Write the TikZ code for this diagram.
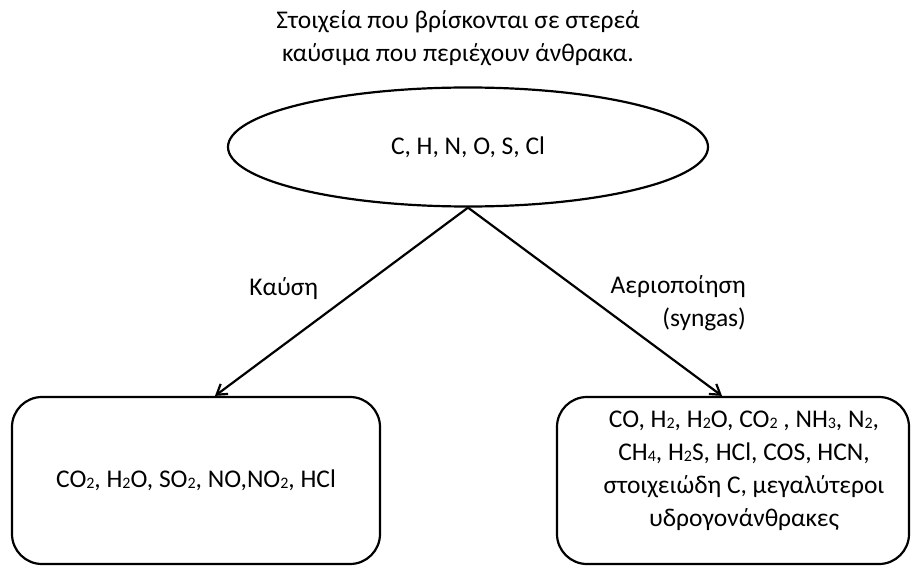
\documentclass[tikz,border=0pt]{standalone}
\usepackage{fontspec}
\setmainfont{Carlito}
\usetikzlibrary{arrows.meta,positioning,shapes.geometric}
\newcommand{\chsub}[1]{\raisebox{-1pt}{\fontsize{16}{16}\selectfont #1}}

\begin{document}
\begin{tikzpicture}[
  x=1pt,y=1pt,
  font=\fontsize{25.5}{33}\selectfont,
  line width=2.2pt,
  oval/.style={draw,ellipse,minimum width=480pt,minimum height=119pt,inner sep=0pt},
  box/.style={draw,rounded corners=30pt,minimum height=167pt,inner sep=0pt},
  lbl/.style={inner sep=0pt,align=center},
  arrow/.style={-{Straight Barb[length=3.4mm,width=4.4mm]}}
]
\useasboundingbox (0,0) rectangle (912,566);
\node[lbl] (title) at (458,528) {Στοιχεία που βρίσκονται σε στερεά\\καύσιμα που περιέχουν άνθρακα.};
\node[oval] (source) at (468,419) {C, H, N, O, S, Cl};
\node[box,minimum width=368pt] (burn) at (196,85.5) {CO\chsub{2}, H\chsub{2}O, SO\chsub{2}, NO,NO\chsub{2}, HCl};
\node[box,minimum width=352pt] (gasify) at (733,85.5) {};
\node[lbl] (gastext) at ([xshift=11pt,yshift=10pt]gasify.center) {CO, H\chsub{2}, H\chsub{2}O, CO\chsub{2} , NH\chsub{3}, N\chsub{2},\\CH\chsub{4}, H\chsub{2}S, HCl, COS, HCN,\\στοιχειώδη C, μεγαλύτεροι\\υδρογονάνθρακες};
\draw[arrow] (source.south)--([xshift=19pt]burn.north) node[lbl,pos=.43,left=40pt] (burnlbl) {Καύση};
\draw[arrow] (source.south)--([xshift=-11pt]gasify.north) node[lbl,align=right,pos=.51,right=12pt] (gaslbl) {Αεριοποίηση\\(syngas)};
\end{tikzpicture}
\end{document}
